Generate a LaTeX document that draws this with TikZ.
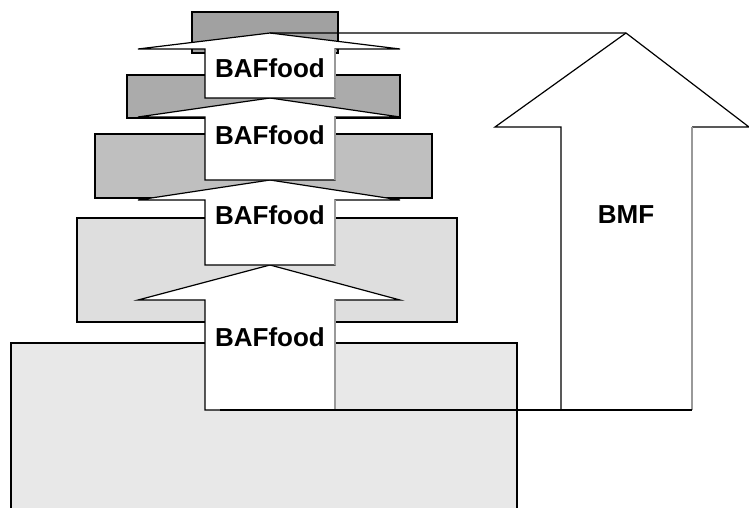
\documentclass[tikz,border=0pt]{standalone}
\usepackage{fontspec}
\setmainfont{Liberation Sans}
\tikzset{level/.style={draw=black, line width=1.2pt},
         food/.style={draw=black, fill=white, line width=1.2pt, line join=miter},
         rim/.style={draw=black!40, line width=1.2pt},
         lbl/.style={font=\fontsize{26}{30}\selectfont\bfseries, inner sep=0pt}}
% block arrow: #1 apex name, #2 stem bottom, #3 head base, #4 apex
\newcommand{\foodarrow}[4]{%
  \draw[food] (205,#2) -- (205,#3) -- (138,#3) -- (270,#4) coordinate (#1) --
        (400,#3) -- (335,#3) -- (335,#2) -- cycle;
  \draw[rim] (335,#3) -- (335,#2);}

\begin{document}
\begin{tikzpicture}[x=1pt,y=-1pt]
   \useasboundingbox (0,0) rectangle (749,508);
   % trophic levels
   \draw[level,fill=black!9]  (11,520) -- (11,343) -- (517,343) -- (517,520);
   \draw[level,fill=black!13] (77,218) rectangle (457,322);
   \draw[level,fill=black!25] (95,134) rectangle (432,198);
   \draw[level,fill=black!33] (127,75) rectangle (400,118);
   \draw[level,fill=black!37] (192,12) rectangle (338,53);
   % food flow
   \foodarrow{a1}{410}{300}{265}
   \foodarrow{a2}{265}{200}{180}
   \foodarrow{a3}{180}{117}{98}
   \foodarrow{a4}{98}{49}{33}
   \node[lbl] (food1) at (270,337) {BAFfood};
   \node[lbl] (food2) at (270,215) {BAFfood};
   \node[lbl] (food3) at (270,135) {BAFfood};
   \node[lbl] (food4) at (270,68)  {BAFfood};
   % biomass flow
   \draw[food,fill=none] (a4) -- (626,33) coordinate (btop) -- (749,127) -- (692,127);
   \draw[food,fill=none] (btop) -- (495,127) -- (561,127) -- (561,410);
   \draw[rim] (692,127) -- (692,410);
   \draw[food,fill=none] (220,410) -- (692,410);
   \node[lbl] (bmf) at (626,215) {BMF};
\end{tikzpicture}
\end{document}
